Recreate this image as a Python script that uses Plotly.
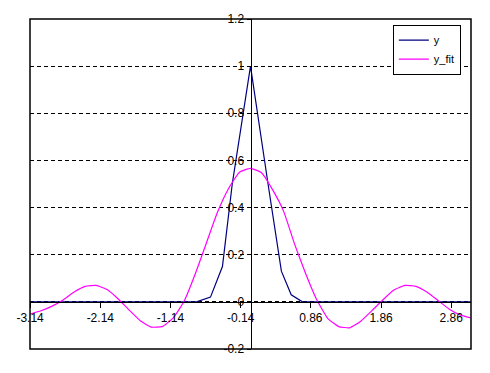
import plotly.graph_objects as go

# ---- data ----
x_y = [-3.1416, -0.77, -0.57, -0.40, -0.26, 0.0, 0.25, 0.44, 0.58, 0.74, 3.1416]
y_vals = [0.0, 0.0, 0.02, 0.15, 0.50, 1.0, 0.50, 0.13, 0.03, 0.0, 0.0]

x_fit = [-3.1416, -2.985, -2.827, -2.670, -2.513, -2.356, -2.199, -2.042, -1.885, -1.728,
         -1.571, -1.414, -1.257, -1.100, -0.942, -0.785, -0.628, -0.471, -0.314, -0.157,
         0.0, 0.157, 0.314, 0.471, 0.628, 0.785, 0.942, 1.100, 1.257, 1.414,
         1.571, 1.728, 1.885, 2.042, 2.199, 2.356, 2.513, 2.670, 2.827, 2.985, 3.1416]
y_fit = [-0.052, -0.038, -0.018, 0.008, 0.042, 0.066, 0.070, 0.052, 0.012, -0.035,
         -0.080, -0.107, -0.105, -0.068, 0.005, 0.120, 0.250, 0.380, 0.480, 0.550,
         0.566, 0.548, 0.476, 0.385, 0.245, 0.120, 0.010, -0.070, -0.105, -0.110,
         -0.082, -0.038, 0.008, 0.050, 0.070, 0.066, 0.042, 0.006, -0.030, -0.055, -0.068]

x_tickvals = [-3.14, -2.14, -1.14, -0.14, 0.86, 1.86, 2.86]
x_ticktext = ["-3.14", "-2.14", "-1.14", "-0.14", "0.86", "1.86", "2.86"]
y_tickvals = [-0.2, 0.0, 0.2, 0.4, 0.6, 0.8, 1.0, 1.2]
y_ticktext = ["-0.2", "0", "0.2", "0.4", "0.6", "0.8", "1", "1.2"]

X_MIN, X_MAX = -3.1416, 3.1416
Y_MIN, Y_MAX = -0.2, 1.2

font = dict(family="Liberation Sans, Arial, sans-serif", size=12, color="black")

fig = go.Figure()
fig.add_trace(go.Scatter(x=x_y, y=y_vals, mode="lines", name="y",
                         line=dict(color="#000080", width=1.2)))
fig.add_trace(go.Scatter(x=x_fit, y=y_fit, mode="lines", name="y_fit",
                         line=dict(color="#FF00FF", width=1.2, shape="spline", smoothing=0.4)))

fig.update_layout(
    width=490, height=373,
    margin=dict(l=30, r=19, t=15, b=24),
    paper_bgcolor="white", plot_bgcolor="white",
    font=font,
    xaxis=dict(range=[X_MIN, X_MAX], tickvals=x_tickvals, ticktext=x_ticktext,
               anchor="free", position=(0 - Y_MIN) / (Y_MAX - Y_MIN),
               showline=True, linecolor="black", linewidth=1,
               ticks="outside", ticklen=5, tickcolor="black",
               showgrid=False, zeroline=False, tickfont=font),
    yaxis=dict(range=[Y_MIN, Y_MAX], tickvals=y_tickvals, ticktext=y_ticktext,
               anchor="free", position=(0 - X_MIN) / (X_MAX - X_MIN),
               showline=True, linecolor="black", linewidth=1,
               ticks="outside", ticklen=4, tickcolor="black",
               showgrid=True, gridcolor="black", gridwidth=1, griddash="4px,3px",
               zeroline=False, tickfont=font),
    legend=dict(x=0.977, y=0.983, xanchor="right", yanchor="top",
                bgcolor="white", bordercolor="black", borderwidth=1,
                font=dict(family="Liberation Sans, Arial, sans-serif", size=11, color="black"),
                itemwidth=30, tracegroupgap=0),
    shapes=[dict(type="rect", xref="paper", yref="paper", x0=0, y0=0, x1=1, y1=1,
                 line=dict(color="black", width=1.5), fillcolor="rgba(0,0,0,0)", layer="above")],
)

fig.write_html("out.html")
